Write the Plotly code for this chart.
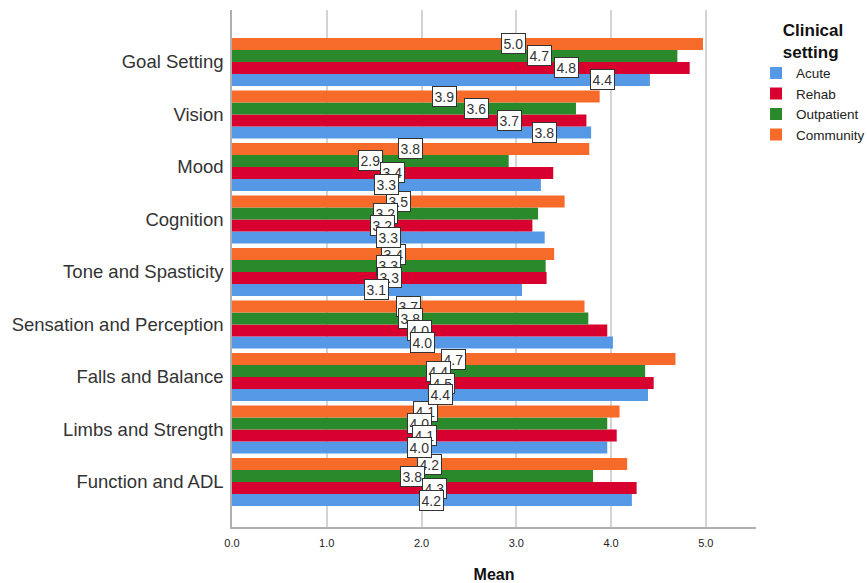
import plotly.graph_objects as go

categories = ["Function and ADL", "Limbs and Strength", "Falls and Balance",
              "Sensation and Perception", "Tone and Spasticity", "Cognition",
              "Mood", "Vision", "Goal Setting"]
series_names = ["Acute", "Rehab", "Outpatient", "Community"]
acute      = [4.22, 3.96, 4.39, 4.02, 3.06, 3.30, 3.26, 3.79, 4.41]
rehab      = [4.27, 4.06, 4.45, 3.96, 3.32, 3.17, 3.39, 3.74, 4.83]
outpatient = [3.81, 3.96, 4.36, 3.76, 3.31, 3.23, 2.92, 3.63, 4.70]
community  = [4.17, 4.09, 4.68, 3.72, 3.40, 3.51, 3.77, 3.88, 4.97]
series_values = [acute, rehab, outpatient, community]
colors = ["#5599E6", "#D7002F", "#2A892A", "#F66A2A"]

# label pixel nudges for crowded top groups (layout styling)
label_xshift = {
    "Goal Setting": {"Community": 46, "Outpatient": 85, "Rehab": 106, "Acute": 162},
    "Vision": {"Community": 29, "Outpatient": 73, "Rehab": 100, "Acute": 133},
}

BARGAP = 0.086
FONT = "Liberation Sans, Arial, sans-serif"

fig = go.Figure()
for name, vals, col in zip(series_names, series_values, colors):
    fig.add_trace(go.Bar(
        y=categories, x=vals, name=name, orientation="h",
        marker=dict(color=col, line=dict(width=0)),
    ))

n = len(series_names)
slot = (1 - BARGAP) / n
annotations = []
for si in reversed(range(n)):
    name = series_names[si]
    vals = series_values[si]
    off = (si - (n - 1) / 2) * slot
    for ci, cat in enumerate(categories):
        v = vals[ci]
        annotations.append(dict(
            x=v / 2, y=ci + off, xref="x", yref="y",
            text=f"{v:.1f}", showarrow=False,
            xshift=label_xshift.get(cat, {}).get(name, 0),
            font=dict(family=FONT, size=14, color="#333"),
            bgcolor="white", bordercolor="#333", borderwidth=1, borderpad=1.5,
        ))

fig.update_layout(
    width=867, height=583,
    margin=dict(l=232, r=110, t=10, b=56),
    paper_bgcolor="white", plot_bgcolor="white",
    barmode="group", bargap=BARGAP, bargroupgap=0,
    font=dict(family=FONT, color="#222"),
    annotations=annotations,
    showlegend=True,
    legend=dict(
        title=dict(text="<b>Clinical<br>setting</b>", side="top center",
                   font=dict(size=17, color="#111")),
        traceorder="normal",
        xref="container", yref="container",
        x=0.872, xanchor="left", y=0.977, yanchor="top",
        font=dict(size=13.5, color="#222"),
        itemwidth=30, tracegroupgap=0,
        bgcolor="rgba(0,0,0,0)",
    ),
    xaxis=dict(
        range=[0, 5.53], dtick=1, tickformat=".1f",
        showgrid=True, gridcolor="#d4d4d4", gridwidth=1.5,
        showline=True, linecolor="#b0b0b0", linewidth=1.5,
        zeroline=False, ticks="", ticklabelstandoff=5,
        tickfont=dict(size=11, color="#222"),
        automargin=False,
        title=dict(text="<b>Mean</b>", font=dict(size=16, color="#111"), standoff=28),
    ),
    yaxis=dict(
        type="category", categoryorder="array", categoryarray=categories,
        range=[-0.857, 8.99],
        showgrid=False, showline=True, linecolor="#b0b0b0", linewidth=1.5,
        ticks="", ticklabelstandoff=3, automargin=False,
        tickfont=dict(size=18.5, color="#333"),
    ),
)

fig.write_html("out.html", config={"displayModeBar": False},
               post_script="document.body.style.margin='0';")
